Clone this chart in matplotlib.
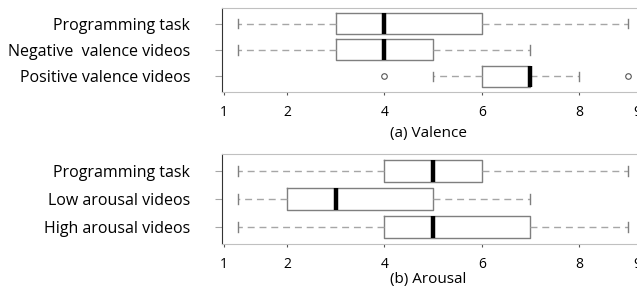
import matplotlib
matplotlib.use('Agg')
import matplotlib.pyplot as plt

plt.rcParams['font.family'] = ['Open Sans', 'DejaVu Sans']

# (whislo, q1, med, q3, whishi, outliers) per row, top row first
valence_labels = ['Programming task', 'Negative  valence videos', 'Positive valence videos']
valence_lo = [1, 1, 5]
valence_q1 = [3, 3, 6]
valence_med = [4, 4, 7]
valence_q3 = [6, 5, 7]
valence_hi = [9, 7, 8]
valence_fliers = [[], [], [4, 9]]

arousal_labels = ['Programming task', 'Low arousal videos', 'High arousal videos']
arousal_lo = [1, 1, 1]
arousal_q1 = [4, 2, 4]
arousal_med = [5, 3, 5]
arousal_q3 = [6, 5, 7]
arousal_hi = [9, 7, 9]
arousal_fliers = [[], [], []]

tick_pos = [0.71, 2, 4, 6, 8, 9.2]
tick_labels = ['1', '2', '4', '6', '8', '9']


def draw_panel(ax, labels, lo, q1, med, q3, hi, fliers, title, title_y):
    stats = []
    for i in range(len(labels)):
        stats.append(dict(label=labels[i], whislo=lo[i], q1=q1[i], med=med[i],
                          q3=q3[i], whishi=hi[i], fliers=fliers[i]))
    ax.bxp(stats, positions=[1, 2, 3], vert=False, widths=0.8, capwidths=0.35,
           boxprops=dict(color='#7f7f7f', lw=1.0),
           medianprops=dict(color='black', lw=3.2, solid_capstyle='butt'),
           whiskerprops=dict(color='#a6a6a6', lw=1.0, ls=(0, (5, 3.5))),
           capprops=dict(color='#7f7f7f', lw=1.0),
           flierprops=dict(marker='o', markersize=4, markerfacecolor='none',
                           markeredgecolor='#555555', markeredgewidth=0.8))
    ax.set_xlim(0.667, 9.3)
    ax.set_ylim(3.6, 0.4)
    ax.set_xticks(tick_pos)
    ax.set_xticklabels(tick_labels)
    ax.tick_params(axis='x', length=2, color='#555555', pad=7, labelsize=10)
    ax.tick_params(axis='y', length=5, color='#a6a6a6', pad=18, labelsize=11.5)
    ax.spines['right'].set_visible(False)
    ax.spines['left'].set_color('#333333')
    ax.spines['top'].set_color('#c0c0c0')
    ax.spines['bottom'].set_color('#c0c0c0')
    ax.figure.text(0.672, title_y, title, ha='center', va='center', fontsize=11)


fig = plt.figure(figsize=(6.37, 2.94), dpi=100)
ax1 = fig.add_axes([0.3485, 0.687, 0.66, 0.286])
ax2 = fig.add_axes([0.3485, 0.170, 0.66, 0.306])

draw_panel(ax1, valence_labels, valence_lo, valence_q1, valence_med, valence_q3,
           valence_hi, valence_fliers, '(a) Valence', 0.546)
draw_panel(ax2, arousal_labels, arousal_lo, arousal_q1, arousal_med, arousal_q3,
           arousal_hi, arousal_fliers, '(b) Arousal', 0.051)

fig.savefig('out.png', dpi=100)
